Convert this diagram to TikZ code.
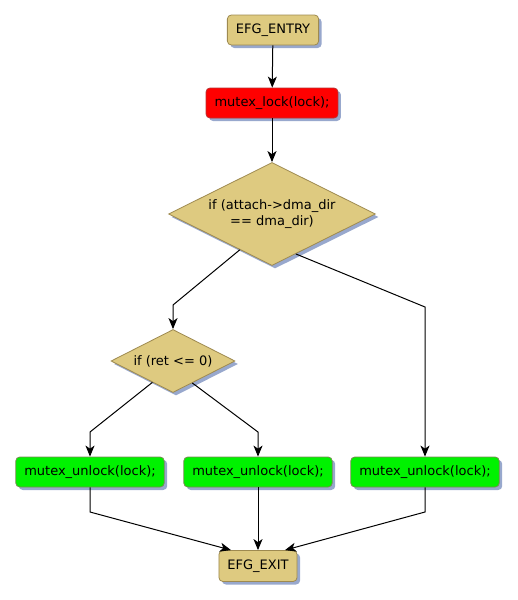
\documentclass[tikz,border=0pt]{standalone}
\usepackage{fontspec}
\setmainfont{DejaVu Sans}
\usetikzlibrary{arrows.meta,calc,shapes.geometric,shadows}
\definecolor{tan}{RGB}{222,202,128}
\definecolor{tanrim}{RGB}{158,138,80}
\definecolor{lockred}{RGB}{255,0,0}
\definecolor{lockrim}{RGB}{185,50,50}
\definecolor{freegreen}{RGB}{0,242,0}
\definecolor{freerim}{RGB}{120,138,82}
\definecolor{shade}{RGB}{152,168,205}

\begin{document}
\begin{tikzpicture}[
  x={(1pt,0pt)}, y={(0pt,-1pt)},
  >={Stealth[length=11pt,width=9pt,inset=3pt]},
  font=\fontsize{13}{16}\selectfont,
  sh/.style={drop shadow={shadow xshift=3pt, shadow yshift=-3pt, fill=shade, opacity=1}},
  blk/.style={rectangle, rounded corners=4pt, draw=#1rim, line width=0.8pt,
    minimum height=30pt, inner xsep=8.5pt, inner ysep=0pt, sh},
  term/.style={blk=tan, fill=tan},
  cond/.style={diamond, aspect=2, draw=tanrim, fill=tan, line width=0.8pt, inner sep=0pt,
    align=center, sh},
  arr/.style={->, line width=1pt},
  ln/.style={line width=1pt}]

\useasboundingbox (0,0) rectangle (517,600);

% blocks
\node[term] (entry) at (273,30) {EFG\_ENTRY};
\node[blk=lock, fill=lockred] (lock) at (272,103) {mutex\_lock(lock);};
\node[cond, minimum width=207pt, minimum height=103pt] (dir) at (272,214)
  {if (attach->dma\_dir\\== dma\_dir)};
\node[cond, minimum width=124pt, minimum height=63pt] (ret) at (173,361) {if (ret <= 0)};
\node[blk=free, fill=freegreen] (unA) at (90,472)  {mutex\_unlock(lock);};
\node[blk=free, fill=freegreen] (unB) at (258,472) {mutex\_unlock(lock);};
\node[blk=free, fill=freegreen] (unC) at (425,472) {mutex\_unlock(lock);};
\node[term, minimum width=75pt, minimum height=31pt] (exit) at (258,566) {EFG\_EXIT};

% edges
\draw[arr] (entry) -- (lock);
\draw[arr] (lock) -- (dir);
\draw[arr] ($(dir.west)!0.69!(dir.south)$) -- (ret.north |- 0,305) -- (ret.north);
\draw[arr] ($(dir.south)!0.23!(dir.east)$) -- (unC.north |- 0,307) -- (unC.north);
\draw[arr] ($(ret.west)!0.67!(ret.south)$) -- (unA.north |- 0,432) -- (unA.north);
\draw[arr] ($(ret.south)!0.31!(ret.east)$) -- (unB.north |- 0,432) -- (unB.north);
\draw[arr] (unA.south) -- (unA.south |- 0,512) -- ($(exit.north)+(-27,0)$);
\draw[arr] (unB) -- (exit);
\draw[arr] (unC.south) -- (unC.south |- 0,512) -- ($(exit.north)+(27,0)$);

\end{tikzpicture}
\end{document}
